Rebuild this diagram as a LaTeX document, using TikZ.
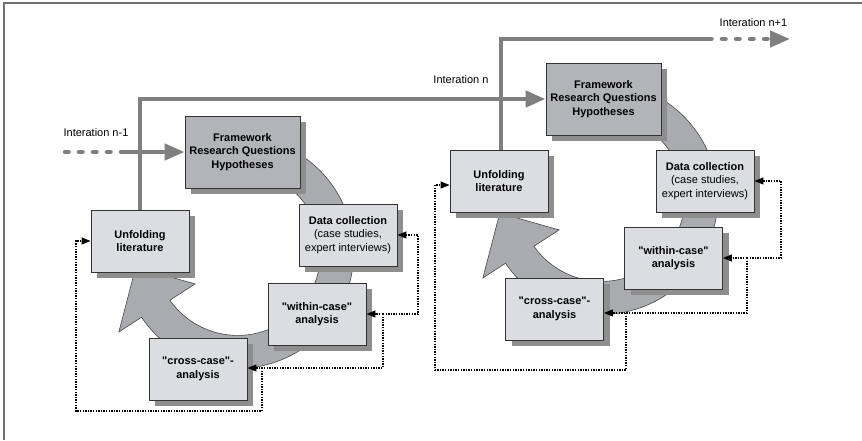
\documentclass[tikz,border=0pt]{standalone}
\usepackage{fontspec}
\setmainfont{Liberation Sans}[Ligatures=TeXOff]
\usetikzlibrary{arrows.meta,shadows,calc}
\definecolor{boxlight}{HTML}{DCDDE0}
\definecolor{boxdark}{HTML}{B3B4B7}
\definecolor{boxline}{HTML}{333333}
\definecolor{shadowgray}{HTML}{8E8E8E}
\definecolor{bandgray}{HTML}{A9ABAE}
\definecolor{flowgray}{HTML}{7F7F7F}
\definecolor{framegray}{HTML}{707070}

\begin{document}
\begin{tikzpicture}[x=1pt, y=-1pt,
    box/.style={rectangle, draw=boxline, line width=0.9pt, fill=boxlight, minimum width=98pt, minimum height=62pt, inner sep=1pt, align=center, font=\fontsize{11}{13.5}\selectfont\bfseries, drop shadow={shadow xshift=6pt, shadow yshift=-6pt, fill=shadowgray, opacity=1, draw=none}},
    frame/.style={box, fill=boxdark, minimum width=115pt, minimum height=72pt},
    lbl/.style={font=\fontsize{11}{13.5}\selectfont, inner sep=0pt},
    band/.style={fill=bandgray, draw=boxline!90, line width=0.6pt},
    flow/.style={draw=flowgray, line width=4.5pt},
    flowtip/.style={flow, -{Triangle[length=20pt, width=16pt]}},
    flowdash/.style={flow, line cap=round, dash pattern=on 3.5pt off 10.5pt},
    fb/.style={draw=black, line width=1.1pt, dash pattern=on 1.4pt off 1.2pt, -{Triangle[length=9pt, width=7pt]}}
  ]
    \useasboundingbox (0,0) rectangle (862,440);
    \draw[framegray, line width=1.5pt] (4,440) -- (4,3) -- (862,3);

    % circular arrows of the two cycles
    \coordinate (cL) at (237.7,252.4);
    \coordinate (cR) at (601.7,198.4);
    \foreach \c in {cL,cR}
      \filldraw[band] (\c) ++(-75:116) arc[start angle=-75, end angle=146, radius=116]
        -- ($(\c)+(146.2:143)$) -- ($(\c)+(171.8:103)$) -- ($(\c)+(143.5:53)$)
        -- ($(\c)+(144.8:83)$) arc[start angle=144.8, end angle=-75, radius=83] -- cycle;

    % iteration n
    \node[frame] (fwL) at (242.5,152) {Framework\\Research Questions\\Hypotheses};
    \node[box] (litL) at (140,241) {Unfolding\\literature};
    \node[box] (dcL) at (348,235) {Data collection\\\mdseries(case studies,\\\mdseries expert interviews)};
    \node[box] (wcL) at (317,314) {"within-case"\\analysis};
    \node[box] (ccL) at (198,369) {"cross-case"-\\analysis};

    % iteration n+1
    \node[frame] (fwR) at (603.5,99) {Framework\\Research Questions\\Hypotheses};
    \node[box] (litR) at (499,181) {Unfolding\\literature};
    \node[box] (dcR) at (705,181) {Data collection\\\mdseries(case studies,\\\mdseries expert interviews)};
    \node[box] (wcR) at (673.5,258) {"within-case"\\analysis};
    \node[box] (ccR) at (554.5,309) {"cross-case"-\\analysis};

    % iteration flow
    \node[lbl] (itL) at (96,133) {Interation n-1};
    \node[lbl] (itM) at (461,80) {Interation n};
    \node[lbl] (itR) at (753.5,23) {Interation n+1};
    \coordinate (inL) at (65,152);
    \coordinate (midL) at (123,152);
    \coordinate (outR) at (708,39);
    \coordinate (endR) at (790,39);
    \draw[flowdash] (inL) -- (midL);
    \draw[flowtip] (midL) -- (fwL.west);
    \draw[flowtip] (litL.north) |- (fwR.west);
    \draw[flow] ([xshift=2pt]litR.north) |- (outR);
    \draw[flowdash] (outR) -- ($(endR)+(-18,0)$);
    \draw[flowtip] ($(endR)+(-20,0)$) -- (endR);

    % feedback loops
    \coordinate (jwL) at (383,314);
    \coordinate (jcL) at (262,368);
    \coordinate (loopL) at (76,411);
    \draw[fb] (jwL) -- (wcL.east);
    \draw[fb] (jwL) -- ++(35,0) |- (dcL.east);
    \draw[fb] (jwL) |- ([yshift=1pt]ccL.east);
    \draw[fb] (jcL) |- (loopL) |- (litL.west);

    \coordinate (jwR) at (747,258);
    \coordinate (jcR) at (626,313);
    \coordinate (loopR) at (435,370);
    \draw[fb] (jwR) -- (wcR.east);
    \draw[fb] (jwR) -- ++(34,0) |- (dcR.east);
    \draw[fb] (jwR) |- ([yshift=-4pt]ccR.east);
    \draw[fb] (jcR) |- (loopR) |- ([yshift=-4pt]litR.west);
  \end{tikzpicture}
\end{document}
